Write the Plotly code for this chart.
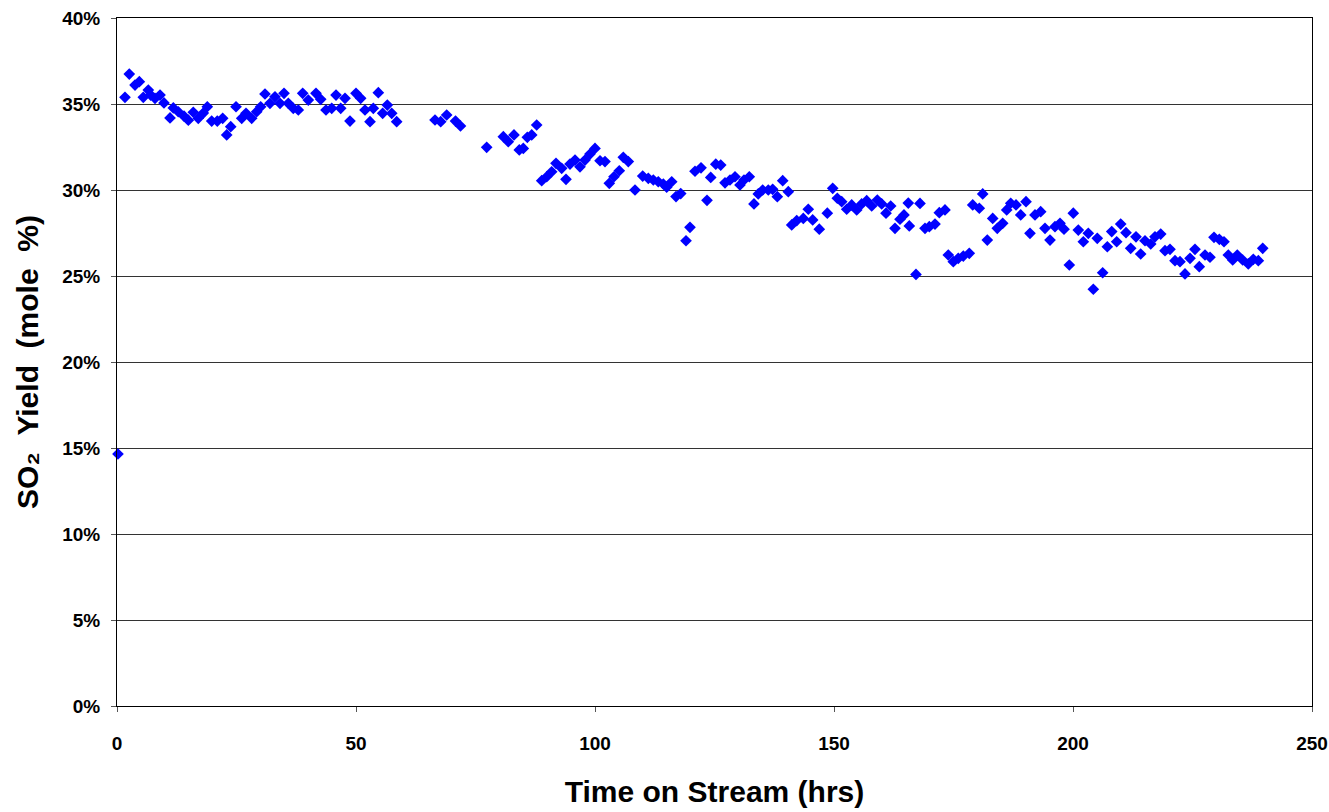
import plotly.graph_objects as go

# Time on stream (hrs)
hours = [
    0.2, 1.67, 2.57, 3.77, 4.67, 5.50, 6.55, 7.05, 7.95, 9.0, 9.83, 11.09, 11.78, 12.82, 14.02,
    14.92, 15.96, 17.0, 18.05, 18.89, 19.81, 20.98, 22.11, 22.95, 23.79, 24.9, 26.09, 26.99,
    28.18, 29.23, 30.06, 30.96, 32.0, 33.05, 34.1, 34.94, 35.84, 36.88, 37.93, 38.85, 40.02,
    41.63, 42.62, 43.72, 44.92, 45.82, 46.8, 47.7, 48.74, 50.0, 50.98, 51.88, 52.93, 53.62,
    54.67, 55.58, 56.55, 57.47, 58.51,
    66.53, 67.72, 68.97, 70.82, 71.86, 77.34, 80.82, 81.86, 83.05, 84.16, 85.0, 85.84, 86.76,
    87.8, 88.85, 89.9, 90.94, 91.84, 93.03, 93.93, 94.77, 95.82, 96.86, 97.91, 98.95, 100.0,
    101.05, 102.09, 102.99, 103.97, 105.08, 105.92, 106.97, 108.37, 109.98, 111.15, 112.2,
    113.24, 114.29, 115.0, 116.05, 116.95, 117.93, 119.04, 119.87, 120.92, 122.18, 123.43,
    124.21, 125.27, 126.3,
    127.2, 128.24, 129.29, 130.33, 131.17, 132.28, 133.26, 134.16, 135.08, 136.25, 137.17,
    138.14, 139.27, 140.44, 141.15, 142.2, 143.58, 144.62, 145.54, 146.92, 148.6, 149.73,
    150.69, 151.61, 152.66, 153.7, 154.75, 155.79, 156.84, 157.89, 159.06, 159.98, 160.88,
    161.86, 162.76, 163.81, 164.64, 165.54, 165.75, 167.15, 167.99, 169.04, 169.94, 171.13,
    172.03, 173.22, 173.91, 174.96, 176.0, 177.05, 178.3, 179.02, 180.4, 181.11, 182.07,
    183.2, 184.16, 185.29, 186.13, 186.97, 188.08, 189.06, 190.17, 191.0, 192.05, 193.24,
    194.14, 195.19, 196.23, 197.28, 198.12, 199.23, 200.06, 201.11, 202.16, 203.2, 204.25,
    205.08, 206.21, 207.18, 208.1, 209.14, 209.98, 211.09, 212.07, 213.18, 214.16, 215.06,
    216.26, 217.15, 218.35, 219.25, 220.29, 221.34, 222.38, 223.43, 224.48, 225.52, 226.42,
    227.62, 228.66, 229.5, 230.61, 231.59, 232.49, 233.41, 234.37, 235.5, 236.67, 237.72,
    238.77, 239.69,
]

# SO2 yield (mole %)
so2_yield = [
    14.65, 35.39, 36.74, 36.10, 36.30, 35.39, 35.81, 35.52, 35.33, 35.52, 35.06, 34.19, 34.77,
    34.55, 34.29, 34.06, 34.52, 34.17, 34.47, 34.84, 34.01, 34.01, 34.17, 33.20, 33.68, 34.84,
    34.17, 34.46, 34.17, 34.55, 34.84, 35.58, 35.04, 35.42, 35.04, 35.62, 35.04, 34.75, 34.65,
    35.62, 35.23, 35.62, 35.27, 34.65, 34.75, 35.52, 34.75, 35.33, 34.01, 35.62, 35.33, 34.65,
    33.97, 34.75, 35.66, 34.46, 34.94, 34.46, 33.97,
    34.07, 33.97, 34.36, 34.01, 33.72, 32.48, 33.10, 32.81, 33.20, 32.33, 32.42, 33.06, 33.20,
    33.78, 30.54, 30.77, 31.06, 31.55, 31.26, 30.62, 31.51, 31.74, 31.35, 31.74, 32.09, 32.42,
    31.70, 31.65, 30.39, 30.77, 31.12, 31.90, 31.65, 30.00, 30.81, 30.68, 30.58, 30.48, 30.35,
    30.16, 30.48, 29.62, 29.79, 27.05, 27.83, 31.09, 31.29, 29.40, 30.73, 31.50, 31.45,
    30.42, 30.58, 30.77, 30.29, 30.58, 30.77, 29.19, 29.77, 30.00, 30.00, 30.04, 29.61, 30.54,
    29.90, 27.97, 28.22, 28.35, 28.88, 28.26, 27.72, 28.65, 30.10, 29.52, 29.32, 28.88, 29.13,
    28.84, 29.19, 29.38, 29.07, 29.42, 29.19, 28.65, 29.07, 27.77, 28.30, 28.55, 29.24, 27.91,
    25.09, 29.22, 27.77, 27.87, 28.02, 28.68, 28.84, 26.22, 25.83, 26.03, 26.16, 26.32, 29.13,
    28.94, 29.77, 27.09, 28.35, 27.77, 28.06, 28.84, 29.23, 29.13, 28.55, 29.32, 27.48, 28.55,
    28.74, 27.77, 27.09, 27.87, 28.06, 27.72, 25.64, 28.65, 27.67, 26.99, 27.48, 24.23, 27.19,
    25.19, 26.70, 27.58, 26.99, 28.02, 27.52, 26.61, 27.28, 26.28, 27.05, 26.86, 27.28, 27.44,
    26.47, 26.55, 25.89, 25.83, 25.12, 26.03, 26.55, 25.54, 26.22, 26.09, 27.25, 27.13, 26.99,
    26.22, 25.93, 26.22, 25.93, 25.70, 25.97, 25.89, 26.61,
]

x_ticks = [0, 50, 100, 150, 200, 250]
y_ticks = [0, 5, 10, 15, 20, 25, 30, 35, 40]
y_tick_labels = ["0%", "5%", "10%", "15%", "20%", "25%", "30%", "35%", "40%"]

x_title = "Time on Stream (hrs)"
y_title = "SO\u2082&nbsp;&nbsp;Yield&nbsp;&nbsp;(mole&nbsp;&nbsp;%)"

FONT = "Liberation Sans, Arial, sans-serif"

fig = go.Figure()
fig.add_trace(go.Scatter(
    x=hours,
    y=so2_yield,
    mode="markers",
    marker=dict(symbol="diamond", size=9, color="#0000FF", line=dict(width=0)),
    showlegend=False,
    cliponaxis=False,
))

fig.update_layout(
    width=1329,
    height=812,
    margin=dict(l=117, r=17, t=18, b=106),
    paper_bgcolor="white",
    plot_bgcolor="white",
    font=dict(family=FONT, color="black"),
)

fig.update_xaxes(
    range=[0, 250],
    tickvals=x_ticks,
    ticktext=[str(v) for v in x_ticks],
    ticks="outside",
    ticklen=5,
    tickcolor="#555555",
    ticklabelstandoff=15,
    showline=True,
    linecolor="black",
    linewidth=1,
    mirror=True,
    showgrid=False,
    zeroline=False,
    automargin=False,
    tickfont=dict(family=FONT, size=19, color="black", weight="bold"),
    title=dict(text=x_title,
               font=dict(family=FONT, size=30, color="black", weight="bold"), standoff=28),
)

fig.update_yaxes(
    range=[0, 40],
    tickvals=y_ticks,
    ticktext=y_tick_labels,
    ticks="outside",
    ticklen=5,
    tickcolor="#555555",
    ticklabelstandoff=7,
    showline=True,
    linecolor="black",
    linewidth=1,
    mirror=True,
    showgrid=True,
    gridcolor="#333333",
    gridwidth=1,
    zeroline=False,
    automargin=False,
    tickfont=dict(family=FONT, size=19, color="black", weight="bold"),
    title=dict(text=y_title,
               font=dict(family=FONT, size=30, color="black", weight="bold"), standoff=14),
)

fig.write_html(
    "out.html",
    config={"displayModeBar": False},
    post_script="document.body.style.margin='0';document.body.style.overflow='hidden';",
)
